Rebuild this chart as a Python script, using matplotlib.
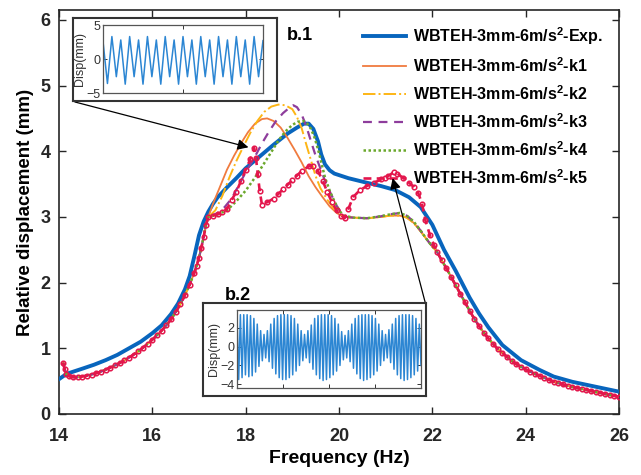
import matplotlib
matplotlib.use('Agg')
import matplotlib.pyplot as plt
import numpy as np

plt.rcParams['font.family'] = ['Liberation Sans', 'DejaVu Sans']
plt.rcParams['mathtext.fontset'] = 'custom'
plt.rcParams['mathtext.rm'] = 'Liberation Sans'
plt.rcParams['mathtext.bf'] = 'Liberation Sans:bold'
plt.rcParams['mathtext.default'] = 'bf'

# ---------------- data ----------------
# Experimental curve
freq_exp = [14.0, 14.1, 14.2, 14.35, 14.5, 14.75, 15.0, 15.25, 15.5, 15.75, 16.0, 16.2, 16.4,
            16.55, 16.7, 16.8, 16.9, 17.0, 17.1, 17.2, 17.3, 17.4, 17.6, 17.8, 18.0, 18.3,
            18.6, 18.9, 19.1, 19.25, 19.35, 19.45, 19.55, 19.62, 19.7, 19.8, 19.9, 20.2, 20.6,
            20.9, 21.2, 21.5, 21.75, 22.0, 22.25, 22.5, 22.8, 23.0, 23.2, 23.5, 23.9, 24.3,
            24.6, 25.0, 25.4, 25.7, 26.0]
disp_exp = [0.53, 0.58, 0.62, 0.655, 0.69, 0.75, 0.82, 0.90, 1.00, 1.10, 1.23, 1.35, 1.52,
            1.68, 1.90, 2.10, 2.40, 2.72, 2.93, 3.08, 3.20, 3.30, 3.45, 3.59, 3.74, 3.92,
            4.10, 4.27, 4.36, 4.42, 4.42, 4.34, 4.15, 3.95, 3.80, 3.71, 3.66, 3.59, 3.52,
            3.47, 3.41, 3.30, 3.15, 2.88, 2.50, 2.18, 1.77, 1.53, 1.32, 1.05, 0.82, 0.67,
            0.57, 0.49, 0.43, 0.385, 0.34]

# Simulated curves: shared low-frequency branch
freq_sim_lo = [14.09, 14.12, 14.16, 14.22, 14.3, 14.4, 14.5, 14.6, 14.7, 14.8, 14.9, 15.0, 15.1,
               15.2, 15.3, 15.4, 15.5, 15.6, 15.7, 15.8, 15.9, 16.0, 16.1, 16.2, 16.3, 16.4,
               16.5, 16.6, 16.7, 16.8, 16.9, 16.95, 17.0, 17.05, 17.1, 17.15]
disp_sim_lo = [0.78, 0.68, 0.61, 0.575, 0.56, 0.56, 0.57, 0.585, 0.60, 0.62, 0.645, 0.675, 0.705,
               0.74, 0.775, 0.815, 0.86, 0.905, 0.955, 1.01, 1.07, 1.13, 1.20, 1.27, 1.35, 1.44,
               1.55, 1.67, 1.81, 1.97, 2.15, 2.26, 2.38, 2.53, 2.70, 2.88]
# shared high-frequency branch
freq_sim_hi = [22.1, 22.2, 22.3, 22.4, 22.5, 22.6, 22.7, 22.8, 22.9, 23.0, 23.1, 23.2, 23.3, 23.4,
               23.5, 23.6, 23.7, 23.8, 23.9, 24.0, 24.1, 24.2, 24.3, 24.4, 24.5, 24.6, 24.7,
               24.8, 24.9, 25.0, 25.1, 25.2, 25.3, 25.4, 25.5, 25.6, 25.7, 25.8, 25.9, 26.0]
disp_sim_hi = [2.47, 2.34, 2.22, 2.09, 1.96, 1.83, 1.70, 1.57, 1.45, 1.34, 1.24, 1.15, 1.07, 0.99,
               0.93, 0.87, 0.81, 0.76, 0.72, 0.68, 0.645, 0.61, 0.58, 0.55, 0.52, 0.49, 0.47,
               0.45, 0.43, 0.41, 0.395, 0.38, 0.365, 0.35, 0.335, 0.32, 0.305, 0.29, 0.275, 0.26]
# common flat tail (k1-k4) between 20.1 and 22.1 Hz
freq_tail = [20.3, 20.6, 20.9, 21.1, 21.3, 21.45, 21.6, 21.75, 21.9, 22.0]
disp_tail_k12 = [2.99, 2.98, 3.00, 3.02, 3.02, 2.99, 2.91, 2.78, 2.64, 2.55]
disp_tail_k34 = [2.99, 2.98, 3.01, 3.04, 3.06, 3.02, 2.93, 2.79, 2.64, 2.55]

# mid-range parts of each simulation
freq_k1 = [17.2, 17.3, 17.45, 17.6, 17.75, 17.9, 18.05, 18.2, 18.35, 18.46, 18.6, 18.75, 18.9,
           19.05, 19.2, 19.35, 19.5, 19.65, 19.8, 19.95, 20.1]
disp_k1 = [3.0, 3.2, 3.46, 3.72, 3.93, 4.12, 4.29, 4.42, 4.49, 4.50, 4.46, 4.36, 4.20,
           4.02, 3.83, 3.62, 3.45, 3.30, 3.16, 3.06, 3.0]
freq_k2 = [17.2, 17.35, 17.5, 17.65, 17.8, 17.95, 18.1, 18.25, 18.4, 18.55, 18.7, 18.85, 19.0,
           19.1, 19.2, 19.3, 19.4, 19.5, 19.6, 19.75, 19.9, 20.05, 20.15]
disp_k2 = [3.0, 3.1, 3.32, 3.6, 3.85, 4.07, 4.28, 4.46, 4.60, 4.68, 4.71, 4.70, 4.64,
           4.52, 4.35, 4.10, 3.86, 3.62, 3.44, 3.26, 3.12, 3.03, 3.0]
freq_k3 = [17.2, 17.4, 17.55, 17.7, 17.85, 18.0, 18.2, 18.35, 18.5, 18.65, 18.8, 18.95, 19.02,
           19.1, 19.2, 19.3, 19.4, 19.5, 19.6, 19.7, 19.82, 19.95, 20.05, 20.15]
disp_k3 = [3.0, 3.06, 3.15, 3.28, 3.48, 3.68, 3.92, 4.12, 4.30, 4.46, 4.58, 4.67, 4.70,
           4.67, 4.56, 4.38, 4.15, 3.93, 3.74, 3.55, 3.36, 3.17, 3.06, 3.0]
freq_k4 = [17.2, 17.4, 17.6, 17.8, 18.0, 18.2, 18.4, 18.55, 18.7, 18.85, 19.0, 19.12, 19.24,
           19.32, 19.4, 19.48, 19.55, 19.62, 19.7, 19.8, 19.9, 20.0, 20.1]
disp_k4 = [3.0, 3.04, 3.10, 3.24, 3.40, 3.60, 3.82, 3.99, 4.16, 4.30, 4.40, 4.45, 4.46,
           4.42, 4.34, 4.20, 4.03, 3.83, 3.60, 3.40, 3.24, 3.10, 3.02]
freq_k5 = [17.2, 17.3, 17.4, 17.5, 17.6, 17.7, 17.8, 17.9, 18.0, 18.1, 18.18, 18.22, 18.26,
           18.3, 18.35, 18.45, 18.6, 18.7, 18.8, 18.9, 19.0, 19.1, 19.2, 19.35, 19.45, 19.55,
           19.65, 19.75, 19.85, 19.95, 20.05, 20.12, 20.2, 20.3, 20.45, 20.6, 20.75, 20.9,
           21.05, 21.17, 21.25, 21.38, 21.5, 21.6, 21.7, 21.78, 21.85, 21.95, 22.03]
disp_k5 = [3.0, 3.02, 3.04, 3.07, 3.12, 3.26, 3.38, 3.55, 3.72, 3.88, 4.05, 3.90, 3.65,
           3.40, 3.18, 3.22, 3.28, 3.35, 3.42, 3.49, 3.56, 3.63, 3.70, 3.77, 3.77, 3.70,
           3.55, 3.38, 3.22, 3.10, 3.02, 2.98, 3.12, 3.30, 3.41, 3.47, 3.52, 3.57,
           3.62, 3.68, 3.66, 3.59, 3.52, 3.46, 3.36, 3.20, 2.95, 2.72, 2.58]

labels = ['WBTEH-3mm-6m/s$^{2}$-Exp.', 'WBTEH-3mm-6m/s$^{2}$-k1', 'WBTEH-3mm-6m/s$^{2}$-k2',
          'WBTEH-3mm-6m/s$^{2}$-k3', 'WBTEH-3mm-6m/s$^{2}$-k4', 'WBTEH-3mm-6m/s$^{2}$-k5']
x_ticks = [14, 16, 18, 20, 22, 24, 26]
y_ticks = [0, 1, 2, 3, 4, 5, 6]

# inset time signals (successive extrema)
b1_extrema = [2.6, -3.6, 3.3, -2.6, 2.8, -3.7, 3.3, -2.6, 2.8, -3.7, 3.3, -2.6, 2.8, -3.7,
              3.3, -2.6, 2.8, -3.7, 3.3, -2.6, 2.8, -3.7, 3.3, -2.6, 2.8, -3.7, 3.3, -2.6,
              2.8, -3.7, 3.3, -2.6, 2.8, -3.7, 3.3, -2.6, 2.7]
b2_peaks = [3.3, 3.4, 3.4, 3.4, 3.3, 3.0, 2.4, 1.7,
            1.3, 1.7, 2.4, 3.0, 3.3, 3.4, 3.4, 3.4, 3.3, 3.0, 2.4, 1.7,
            1.3, 1.7, 2.3, 3.0, 3.3, 3.4, 3.4, 3.4, 3.3, 3.0, 2.4, 1.6,
            1.2, 1.7, 2.4, 3.0, 3.3, 3.4, 3.4, 3.4, 3.3, 3.0, 2.4, 1.7,
            1.3, 1.8, 2.4, 3.0, 3.3, 3.4, 3.4, 3.4, 3.3, 3.0, 2.4]
b2_troughs = [-3.5, -3.3, -3.0, -3.2, -3.1, -2.7, -2.1, -1.5,
              -1.2, -1.6, -2.3, -2.9, -3.3, -3.5, -3.5, -3.3, -3.0, -2.6, -2.0, -1.5,
              -1.2, -1.7, -2.4, -3.0, -3.4, -3.6, -3.5, -3.3, -3.0, -2.6, -2.0, -1.4,
              -1.2, -1.6, -2.3, -2.9, -3.4, -3.6, -3.5, -3.3, -3.0, -2.6, -2.0, -1.5,
              -1.2, -1.7, -2.4, -3.0, -3.4, -3.6, -3.5, -3.3, -3.0, -2.6, -2.0]

# ---------------- figure ----------------
W, H = 641, 475
fig = plt.figure(figsize=(W / 100, H / 100), dpi=100)


def px_rect(x0, y0, x1, y1):
    return [x0 / W, (H - y1) / H, (x1 - x0) / W, (y1 - y0) / H]


ax = fig.add_axes(px_rect(59, 10, 619, 414))

c_exp = '#0865BD'
c_k1 = '#F07B3F'
c_k2 = '#FDB515'
c_k3 = '#8E3D9C'
c_k4 = '#6BA82C'
c_k5 = '#E3164C'

ax.plot(freq_exp, disp_exp, color=c_exp, lw=2.8, label=labels[0], zorder=3,
        solid_joinstyle='round')

tail_f = freq_tail + freq_sim_hi
f1 = freq_sim_lo + freq_k1 + tail_f
d1 = disp_sim_lo + disp_k1 + disp_tail_k12 + disp_sim_hi
f2 = freq_sim_lo + freq_k2 + tail_f
d2 = disp_sim_lo + disp_k2 + disp_tail_k12 + disp_sim_hi
f3 = freq_sim_lo + freq_k3 + tail_f
d3 = disp_sim_lo + disp_k3 + disp_tail_k34 + disp_sim_hi
f4 = freq_sim_lo + freq_k4 + tail_f
d4 = disp_sim_lo + disp_k4 + disp_tail_k34 + disp_sim_hi
f5 = freq_sim_lo + freq_k5 + freq_sim_hi
d5 = disp_sim_lo + disp_k5 + disp_sim_hi

ax.plot(f1, d1, color=c_k1, lw=1.3, ls='-', label=labels[1], zorder=4)
ax.plot(f2, d2, color=c_k2, lw=1.4, ls='-.', label=labels[2], zorder=4)
ax.plot(f3, d3, color=c_k3, lw=1.6, ls=(0, (4, 3)), label=labels[3], zorder=4)
ax.plot(f4, d4, color=c_k4, lw=1.8, ls=(0, (1, 1)), label=labels[4], zorder=4)
ax.plot(f5, d5, color=c_k5, lw=1.9, ls=(0, (3, 2)), marker='o', ms=3.3, mfc='none',
        mew=1.1, label=labels[5], zorder=5)

ax.set_xlim(14, 26)
ax.set_ylim(0, 6.15)
ax.set_xticks(x_ticks)
ax.set_yticks(y_ticks)
ax.tick_params(direction='in', top=True, right=True, length=5, width=1,
               labelsize=13, colors='#262626', pad=6)
ax.tick_params(axis='x', pad=10)
for lab in ax.get_xticklabels() + ax.get_yticklabels():
    lab.set_fontweight('bold')
for s in ax.spines.values():
    s.set_linewidth(1.2)
    s.set_color('#262626')
ax.set_xlabel('Frequency (Hz)', fontsize=14, fontweight='bold', labelpad=4)
ax.set_ylabel('Relative displacement (mm)', fontsize=13.5, fontweight='bold', labelpad=5)

leg = ax.legend(loc='upper left', bbox_to_anchor=(363 / W, 1 - 25 / H),
                bbox_transform=fig.transFigure, frameon=False, borderpad=0,
                borderaxespad=0, handlelength=2.7, handletextpad=0.45,
                labelspacing=0.58, numpoints=1,
                prop={'family': 'Liberation Sans', 'weight': 'bold', 'size': 11.5})

# arrows
arrow_kw = dict(arrowstyle='-|>', color='black', lw=0.9, mutation_scale=16,
                shrinkA=0, shrinkB=0)
ax.annotate('', xy=(18.06, 4.06), xytext=(14.34, 4.75), arrowprops=arrow_kw,
            annotation_clip=False, zorder=6)
ax.annotate('', xy=(21.15, 3.59), xytext=(21.85, 1.69), arrowprops=arrow_kw,
            annotation_clip=False, zorder=6)


def make_inset(frame, inner, values, ylim, yticks, xticks_frac):
    fa = fig.add_axes(px_rect(*frame))
    fa.set_xticks([])
    fa.set_yticks([])
    fa.set_facecolor('white')
    for s in fa.spines.values():
        s.set_linewidth(1.5)
        s.set_color('#333333')
    ia = fig.add_axes(px_rect(*inner))
    t = np.arange(len(values)) * 0.5
    ia.plot(t, values, color='#2C86D3', lw=1.1, solid_joinstyle='round')
    ia.set_xlim(t[0], t[-1])
    ia.set_ylim(*ylim)
    ia.set_yticks(yticks)
    ia.set_xticks([t[-1] * f for f in xticks_frac])
    ia.set_xticklabels([])
    ia.tick_params(direction='in', top=True, right=True, length=3, width=0.7,
                   labelsize=9, colors='#333333', pad=2)
    for s in ia.spines.values():
        s.set_linewidth(0.9)
        s.set_color('#555555')
    ia.set_ylabel('Disp(mm)', fontsize=9, labelpad=0, color='#333333')
    return ia


make_inset((73, 18, 277, 101), (103, 25, 263, 93), b1_extrema, (-5, 5), [-5, 0, 5], [0.5])

b2_vals = []
for p, q in zip(b2_peaks, b2_troughs):
    b2_vals.extend([p, q])
make_inset((203, 303, 426, 396), (237, 310, 421, 388), b2_vals, (-4.4, 3.9), [-4, -2, 0, 2],
           [0.25, 0.5, 0.75])

fig.text(300 / W, 1 - 36 / H, 'b.1', fontsize=13, fontweight='bold', ha='center', va='center')
fig.text(238 / W, 1 - 296 / H, 'b.2', fontsize=13, fontweight='bold', ha='center', va='center')

fig.savefig('out.png', dpi=100)
